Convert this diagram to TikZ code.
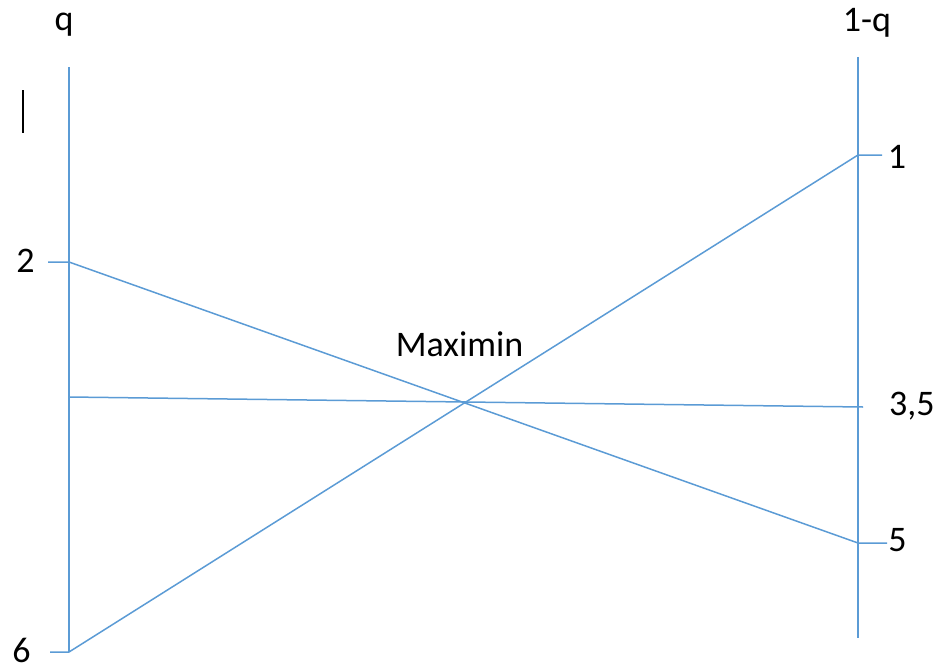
\documentclass[tikz,border=0pt]{standalone}
\usepackage{fontspec}
\setmainfont{Carlito}
\definecolor{lineblue}{RGB}{91,155,213}

\begin{document}
\begin{tikzpicture}[x=1pt,y=-1pt,
	axisline/.style={draw=lineblue,line width=1.5pt},
	lbl/.style={font=\fontsize{36}{40}\selectfont,inner sep=0pt,anchor=base}]
\useasboundingbox (0,0) rectangle (944,669);

% labels
\node[lbl] (q) at (64,31) {q};
\node[lbl] (oneq) at (867,32) {1-q};
\node[lbl] (two) at (25.5,272) {2};
\node[lbl] (six) at (21.5,662) {6};
\node[lbl] (one) at (897,168) {1};
\node[lbl,anchor=base west] (threefive) at (889,415) {3,5};
\node[lbl] (five) at (897.5,551) {5};
\node[lbl] (maximin) at (459.5,356) {Maximin};

% axes
\coordinate (ltop) at (69,67);
\coordinate (lbot) at (69,652);
\coordinate (rtop) at (858,57);
\coordinate (rbot) at (858,638);
\draw[axisline] (ltop) -- (lbot);
\draw[axisline] (rtop) -- (rbot);

% points and ticks
\coordinate (l2) at (69,262);
\coordinate (l6) at (69,652);
\coordinate (lmid) at (69,397);
\coordinate (r1) at (858,155);
\coordinate (r35) at (858,407);
\coordinate (r5) at (858,543);
\coordinate (t2) at (48,262);
\coordinate (t6) at (50,652);
\coordinate (t1) at (882,155);
\coordinate (t35) at (863,407);
\coordinate (t5) at (887,543);
\draw[axisline] (t2) -- (l2) -- (r5) -- (t5);
\draw[axisline] (t6) -- (l6) -- (r1) -- (t1);
\draw[axisline] (lmid) -- (t35);

% cursor mark
\draw[black,line width=1.2pt] (23,90) -- (23,133);
\end{tikzpicture}
\end{document}
